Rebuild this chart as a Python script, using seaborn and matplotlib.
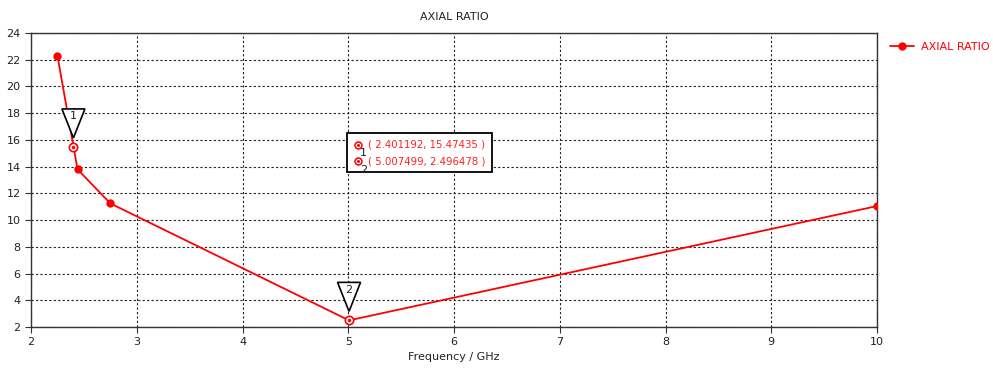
import matplotlib
matplotlib.use("Agg")
import matplotlib.pyplot as plt
import matplotlib.transforms as mtransforms
from matplotlib.patches import Polygon, Rectangle
import seaborn as sns
import pandas as pd

# data
freq = [2.25, 2.44, 2.75, 5.0075, 10.0]
axial_ratio = [22.3, 13.8, 11.25, 2.496, 11.05]
marker_ids = ["1", "2"]
marker_x = [2.401192, 5.007499]
marker_y = [15.47435, 2.496478]
marker_text = ["( 2.401192, 15.47435 )", "( 5.007499, 2.496478 )"]
x_ticks = [2, 3, 4, 5, 6, 7, 8, 9, 10]
y_ticks = [2, 4, 6, 8, 10, 12, 14, 16, 18, 20, 22, 24]

sns.set_style("white")
plt.rcParams['font.family'] = ['DejaVu Sans']

fig = plt.figure(figsize=(9.93, 3.69), dpi=100)
ax = fig.add_axes([31/993, 42/369, 846/993, 294/369])

df = pd.DataFrame({"Frequency / GHz": freq, "AXIAL RATIO": axial_ratio})
sns.lineplot(data=df, x="Frequency / GHz", y="AXIAL RATIO", ax=ax, color="#ff0000",
             linewidth=1.3, marker="o", markersize=6, markeredgewidth=0,
             label="AXIAL RATIO", zorder=3)

ax.set_xlim(2, 10)
ax.set_ylim(2, 24)
ax.set_xticks(x_ticks)
ax.set_yticks(y_ticks)
ax.tick_params(axis='both', labelsize=8, length=4, width=0.8, direction='out',
               colors='#333333', labelcolor='#222222', left=True, bottom=True)
for s in ax.spines.values():
    s.set_color('#333333')
    s.set_linewidth(1.0)
ax.grid(True, color='#222222', linestyle=(0, (2, 2)), linewidth=0.8)
ax.set_axisbelow(True)

ax.set_title("AXIAL RATIO", fontsize=8, color='#222222', pad=9)
ax.set_xlabel("Frequency / GHz", fontsize=8, color='#222222', labelpad=3)
ax.set_ylabel("")

# marker circles
ax.plot(marker_x, marker_y, linestyle='none', marker='o', markersize=6,
        markerfacecolor='white', markeredgecolor='#ff0000', markeredgewidth=1.2, zorder=4)
ax.plot(marker_x, marker_y, linestyle='none', marker='o', markersize=1.5,
        color='#ff0000', zorder=5)

# triangles with ids
for mid, mx, my in zip(marker_ids, marker_x, marker_y):
    tr = mtransforms.ScaledTranslation(mx, my, ax.transData)
    tri = Polygon([(-11.5, 38), (11.5, 38), (0, 9)], closed=True,
                  facecolor='white', edgecolor='black', linewidth=1.2,
                  transform=mtransforms.IdentityTransform() + tr, zorder=6)
    ax.add_patch(tri)
    ax.annotate(mid, (mx, my), xytext=(0, 22), textcoords='offset points',
                ha='center', va='center', fontsize=8, color='#222222', zorder=7)

# info box
box = Rectangle((0.3735, 0.527), 0.1714, 0.133, transform=ax.transAxes,
                facecolor='white', edgecolor='black', linewidth=1.3, zorder=6)
ax.add_patch(box)
rows_y = [0.62, 0.563]
for mid, txt, ry in zip(marker_ids, marker_text, rows_y):
    ax.plot([0.3865], [ry], transform=ax.transAxes, marker='o', markersize=5,
            markerfacecolor='white', markeredgecolor='#ff0000', markeredgewidth=1.1,
            zorder=7, clip_on=False)
    ax.plot([0.3865], [ry], transform=ax.transAxes, marker='o', markersize=1.2,
            color='#ff0000', zorder=8, clip_on=False)
    ax.text(0.389, ry - 0.028, mid, transform=ax.transAxes, fontsize=8,
            color='#222222', ha='left', va='center', zorder=8)
    ax.text(0.3985, ry, txt, transform=ax.transAxes, fontsize=7.3, color='#ff2020',
            ha='left', va='center', zorder=8)

leg = ax.legend(loc='upper left', bbox_to_anchor=(1.01, 0.985), frameon=False,
                fontsize=8, labelcolor='#ff0000', handlelength=2.2, handletextpad=0.6,
                borderaxespad=0)

fig.savefig("out.png", dpi=100)
